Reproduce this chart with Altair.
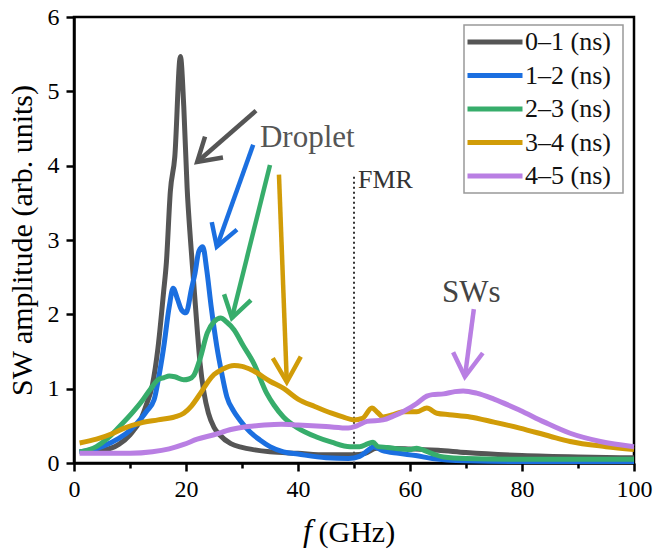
import altair as alt
import pandas as pd

FONT = "Liberation Serif"

series_names = ["0\u20131 (ns)", "1\u20132 (ns)", "2\u20133 (ns)", "3\u20134 (ns)", "4\u20135 (ns)"]
series_colors = ["#555555", "#1b6fe0", "#37ad6b", "#d19c08", "#b97fe3"]

x_01 = [1, 5, 8, 10, 12, 13, 14, 15, 16, 16.5, 17.2, 18, 19, 19.6, 20.2, 20.8, 21.3, 22, 22.5, 23.2, 24, 25, 26,
        28, 30, 32, 35, 40, 45, 50, 52, 54, 56, 60, 65, 70, 80, 90, 100]
y_01 = [0.15, 0.17, 0.25, 0.38, 0.6, 0.8, 1.05, 1.55, 2.3, 2.7, 3.65, 4.12, 5.47, 4.8, 3.7, 3.0, 2.5, 1.8, 1.35,
        0.95, 0.67, 0.48, 0.38, 0.26, 0.21, 0.18, 0.15, 0.13, 0.11, 0.11, 0.13, 0.2, 0.2, 0.19, 0.17, 0.14, 0.1,
        0.08, 0.07]

x_12 = [1, 5, 8, 10, 12, 13, 14.3, 15, 16, 17, 17.7, 18.5, 19.2, 20, 21, 21.6, 22.3, 23, 23.7, 24.5, 25.5, 26.4,
        27.3, 28.5, 29.6, 31.4, 33.2, 35, 37.4, 40, 45, 49, 51, 52.5, 53.5, 55, 58, 61, 64, 70, 80, 100]
y_12 = [0.15, 0.22, 0.33, 0.44, 0.6, 0.7, 0.85, 1.1, 1.55, 2.1, 2.35, 2.2, 2.06, 2.02, 2.35, 2.55, 2.85, 2.91, 2.6,
        2.1, 1.57, 1.2, 0.89, 0.7, 0.58, 0.42, 0.31, 0.22, 0.15, 0.12, 0.07, 0.06, 0.09, 0.17, 0.22, 0.17, 0.13,
        0.1, 0.06, 0.03, 0.02, 0.02]

x_23 = [1, 4, 6, 8, 10.7, 12, 13.7, 15, 16.1, 17, 18, 19.6, 20.5, 21.4, 22.5, 23.8, 25, 26.2, 27.2, 28.6, 30.2,
        32.1, 34.4, 35.7, 37.4, 40, 43.3, 46, 49.3, 51, 52.5, 53.4, 54.3, 56, 58, 60, 61.2, 62.5, 64.2, 66, 70, 80,
        100]
y_23 = [0.15, 0.22, 0.33, 0.48, 0.7, 0.82, 1.0, 1.12, 1.15, 1.17, 1.16, 1.12, 1.13, 1.18, 1.4, 1.75, 1.9, 1.95,
        1.9, 1.79, 1.58, 1.34, 0.94, 0.78, 0.62, 0.47, 0.35, 0.28, 0.22, 0.22, 0.26, 0.28, 0.22, 0.21, 0.19, 0.18,
        0.2, 0.17, 0.12, 0.08, 0.06, 0.05, 0.05]

x_34 = [1, 4, 7, 9, 12, 15, 18, 19.6, 21, 22.6, 24, 25, 26.5, 28.6, 30, 32, 35, 37.5, 40, 43, 46, 48, 50, 51.5,
        53.2, 54.2, 55.2, 57, 58.8, 61.2, 63, 64.8, 67, 70.7, 75, 79.6, 85, 88.6, 95, 100]
y_34 = [0.27, 0.32, 0.4, 0.47, 0.54, 0.58, 0.62, 0.67, 0.77, 0.94, 1.1, 1.19, 1.26, 1.31, 1.3, 1.24, 1.1, 1.0,
        0.86, 0.76, 0.67, 0.62, 0.58, 0.6, 0.74, 0.68, 0.62, 0.65, 0.69, 0.69, 0.74, 0.67, 0.65, 0.62, 0.55, 0.47,
        0.36, 0.29, 0.22, 0.18]

x_45 = [1, 5, 10, 14, 17, 19.6, 22, 25, 28, 31, 34, 37, 40, 45, 49, 50.5, 52.3, 55.2, 57, 59, 61.2, 63, 64, 66,
        68, 69.5, 71.9, 75, 79.6, 84, 88.6, 94, 100]
y_45 = [0.13, 0.13, 0.13, 0.15, 0.19, 0.25, 0.32, 0.38, 0.45, 0.49, 0.51, 0.52, 0.51, 0.49, 0.47, 0.5, 0.56, 0.58,
        0.63, 0.7, 0.8, 0.9, 0.92, 0.93, 0.96, 0.97, 0.94, 0.86, 0.71, 0.55, 0.4, 0.29, 0.22]

# arrows (one per series): tail, tip and two head wings, in data units
arrow_tail_x = [32.5, 32.0, 35.0, 36.6, 71.4]
arrow_tail_y = [4.74, 4.28, 4.01, 3.88, 2.07]
arrow_tip_x = [22.0, 25.5, 28.2, 38.0, 69.8]
arrow_tip_y = [4.05, 2.91, 1.95, 1.09, 1.16]
arrow_w1_x = [23.4, 24.6, 26.8, 35.5, 67.7]
arrow_w1_y = [4.39, 3.24, 2.27, 1.41, 1.49]
arrow_w2_x = [26.6, 29.1, 31.6, 40.5, 73.0]
arrow_w2_y = [4.11, 3.14, 2.19, 1.43, 1.48]

# annotations
note_text = ["Droplet", "FMR", "SWs"]
note_x = [33.2, 50.7, 65.7]
note_y = [4.25, 3.70, 2.17]
note_size = [31, 26, 31]
note_color = ["#555555", "#333333", "#444444"]

fmr_x = [50]
fmr_top = [3.85]

# ---------------- build tables ----------------
rows = []
for name, xs, ys in zip(series_names, [x_01, x_12, x_23, x_34, x_45], [y_01, y_12, y_23, y_34, y_45]):
    for xv, yv in zip(xs, ys):
        rows.append({"series": name, "f": xv, "amp": yv})
curves = pd.DataFrame(rows)

arows = []
for i, name in enumerate(series_names):
    arows += [
        {"series": name, "part": f"s{i}", "o": 0, "f": arrow_tail_x[i], "amp": arrow_tail_y[i]},
        {"series": name, "part": f"s{i}", "o": 1, "f": arrow_tip_x[i], "amp": arrow_tip_y[i]},
        {"series": name, "part": f"h{i}", "o": 0, "f": arrow_w1_x[i], "amp": arrow_w1_y[i]},
        {"series": name, "part": f"h{i}", "o": 1, "f": arrow_tip_x[i], "amp": arrow_tip_y[i]},
        {"series": name, "part": f"h{i}", "o": 2, "f": arrow_w2_x[i], "amp": arrow_w2_y[i]},
    ]
arrows = pd.DataFrame(arows)

notes = pd.DataFrame({"t": note_text, "f": note_x, "amp": note_y, "s": note_size, "c": note_color})
fmr = pd.DataFrame({"f": fmr_x, "top": fmr_top, "bottom": [0]})

xscale = alt.Scale(domain=[0, 100], nice=False, zero=False)
yscale = alt.Scale(domain=[0, 6], nice=False)
cscale = alt.Scale(domain=series_names, range=series_colors)

x_axis = alt.Axis(
    values=list(range(0, 101, 10)),
    format="d",
    labelExpr="datum.value % 20 === 0 ? datum.label : ''",
    tickSize={"condition": {"test": "datum.value % 20 === 0", "value": 8}, "value": 5},
    labelFlush=False, labelOverlap=False,
    title="(GHz)",
    titleX=244, titleY=78, titleAlign="left", titleBaseline="alphabetic",
    titleFontSize=30, titleFontWeight="normal", titleFont=FONT,
    labelPadding=6, grid=False,
)
y_axis = alt.Axis(
    values=[v / 2 for v in range(0, 13)],
    format="d",
    labelExpr="datum.value % 1 === 0 ? datum.label : ''",
    tickSize={"condition": {"test": "datum.value % 1 === 0", "value": 8}, "value": 5},
    labelFlush=False, labelOverlap=False,
    title="SW amplitude (arb. units)",
    titleFontSize=30, titleFontWeight="normal", titleFont=FONT, titlePadding=10,
    labelPadding=7, grid=False,
)

legend = alt.Legend(
    orient="none", legendX=391, legendY=10, title=None, padding=0,
    symbolType="stroke", symbolSize=3025, symbolStrokeWidth=5,
    clipHeight=30, rowPadding=3.5, labelOffset=0,
    labelFont=FONT, labelFontSize=26, labelColor="#111111",
)

legend_frame = alt.Chart(pd.DataFrame({"k": [0]})).mark_rect(
    fill="white", stroke="#999999", strokeWidth=1.5
).encode(x=alt.value(390), x2=alt.value(549), y=alt.value(8), y2=alt.value(176))

lines = alt.Chart(curves).mark_line(strokeWidth=5, interpolate="monotone").encode(
    x=alt.X("f:Q", scale=xscale, axis=x_axis),
    y=alt.Y("amp:Q", scale=yscale, axis=y_axis),
    color=alt.Color("series:N", scale=cscale, legend=legend, sort=series_names),
)

arrow_layer = alt.Chart(arrows).mark_line(strokeWidth=4.5, strokeJoin="miter").encode(
    x="f:Q", y="amp:Q",
    color=alt.Color("series:N", scale=cscale, legend=None),
    detail="part:N", order="o:Q",
)

fmr_line = alt.Chart(fmr).mark_rule(color="#333333", strokeWidth=2, strokeDash=[2, 3]).encode(
    x="f:Q", y="top:Q", y2="bottom:Q"
)

note_layer = alt.Chart(notes).mark_text(align="left", baseline="alphabetic", font=FONT).encode(
    x="f:Q", y="amp:Q", text="t:N",
    size=alt.Size("s:Q", scale=None, legend=None),
    color=alt.Color("c:N", scale=None, legend=None),
)

f_label = alt.Chart(pd.DataFrame({"t": ["f"]})).mark_text(
    align="left", baseline="alphabetic", font=FONT, fontStyle="italic", fontSize=32, color="black"
).encode(text="t:N", x=alt.value(229), y=alt.value(524))

chart = alt.layer(fmr_line, lines, arrow_layer, note_layer, legend_frame, f_label).properties(
    width=560, height=446,
    padding={"left": 74, "top": 17, "right": 20, "bottom": 92},
    autosize=alt.AutoSizeParams(type="none"),
    background="white",
).configure(
    font=FONT
).configure_view(
    stroke="black", strokeWidth=2.5
).configure_axis(
    domainColor="black", domainWidth=2.5, tickColor="black", tickWidth=2.5,
    labelFont=FONT, labelFontSize=24, labelColor="black", titleColor="black",
    titleFont=FONT,
)

chart.save("out.html", embed_options={"renderer": "svg", "actions": False})
